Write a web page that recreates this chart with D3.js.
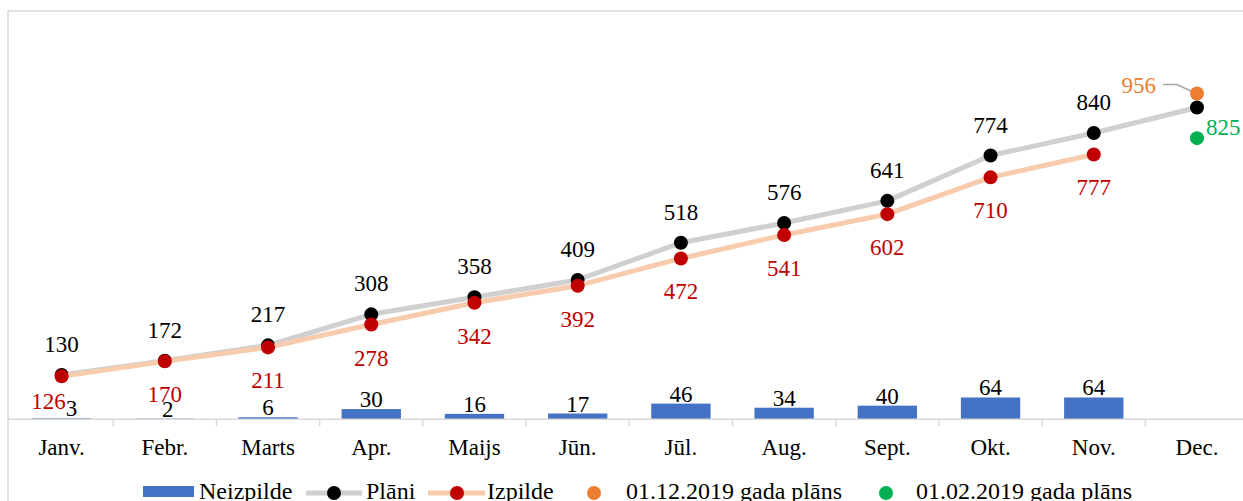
<!DOCTYPE html>
<html>
<head>
<meta charset="utf-8">
<script src="https://cdn.jsdelivr.net/npm/d3@7"></script>
<style>
  html, body { margin: 0; padding: 0; background: #fff; }
  svg { display: block; }
  text { font-family: "Liberation Serif", "Times New Roman", serif; }
</style>
</head>
<body>
<svg id="chart" width="1243" height="501"></svg>
<script>
// ---- data ----
const months = ["Janv.","Febr.","Marts","Apr.","Maijs","Jūn.","Jūl.","Aug.","Sept.","Okt.","Nov.","Dec."];
const plans = [130,172,217,308,358,409,518,576,641,774,840,915];
const izpilde = [126,170,211,278,342,392,472,541,602,710,777];
const neizpilde = [3,2,6,30,16,17,46,34,40,64,64];
const plan0112 = [{month: "Dec.", value: 956}];
const plan0102 = [{month: "Dec.", value: 825}];
const legendLabels = ["Neizpilde","Plāni","Izpilde","01.12.2019 gada plāns","01.02.2019 gada plāns"];

// ---- colours ----
const C = {
  bar: "#4472c4", planLine: "#d0d0d0", planDot: "#000000",
  izLine: "#f8cbad", izDot: "#c00000", izText: "#c00000",
  orange: "#ed7d31", green: "#00b050", grid: "#d9d9d9"
};

const svg = d3.select("#chart");

// frame
svg.append("rect").attr("x", 8).attr("y", 11).attr("width", 1300).attr("height", 600)
  .attr("fill", "none").attr("stroke", C.grid).attr("stroke-width", 1.5);

const x = d3.scaleBand().domain(months).range([10, 1248.6]).paddingInner(0).paddingOuter(0);
const y = d3.scaleLinear().domain([0, 1000]).range([419.3, 78.5]);
const cx = m => x(m) + x.bandwidth() / 2;
const barW = x.bandwidth() * 0.575;

// bars
const barData = neizpilde.map((v, i) => ({m: months[i], v, i}));
svg.append("g").selectAll("rect").data(barData).join("rect")
  .attr("x", d => cx(d.m) - barW / 2)
  .attr("y", d => y(d.v))
  .attr("width", barW)
  .attr("height", d => y(0) - y(d.v))
  .attr("fill", C.bar);

// axis
const axis = d3.axisBottom(x).tickSize(0).tickPadding(0);
const gAx = svg.append("g").attr("transform", `translate(0,${y(0)})`).call(axis);
gAx.select(".domain").remove();
gAx.selectAll(".tick text")
  .attr("y", 36).attr("dy", 0)
  .style("font-family", "Liberation Serif").style("font-size", "23px").attr("fill", "#000");
svg.append("line").attr("x1", 8).attr("x2", 1243).attr("y1", y(0)).attr("y2", y(0))
  .attr("stroke", C.grid).attr("stroke-width", 1.5);
svg.append("g").selectAll("line").data(months.slice(1)).join("line")
  .attr("x1", d => x(d)).attr("x2", d => x(d))
  .attr("y1", y(0)).attr("y2", y(0) + 7)
  .attr("stroke", C.grid).attr("stroke-width", 1.5);

// bar labels
svg.append("g").selectAll("text").data(barData).join("text")
  .attr("x", d => cx(d.m) + (d.i === 0 ? 10 : (d.i === 1 ? 3 : 0)))
  .attr("y", d => y(d.v) - 2)
  .attr("text-anchor", "middle").style("font-size", "23px").attr("fill", "#000")
  .text(d => d.v);

const line = d3.line().x(d => cx(d.m)).y(d => y(d.v));

// plan series
const planData = plans.map((v, i) => ({m: months[i], v, i}));
svg.append("path").datum(planData).attr("d", line)
  .attr("fill", "none").attr("stroke", C.planLine).attr("stroke-width", 5).attr("stroke-linejoin", "round");
svg.append("g").selectAll("circle").data(planData).join("circle")
  .attr("cx", d => cx(d.m)).attr("cy", d => y(d.v)).attr("r", 7).attr("fill", C.planDot);

// izpilde series
const izData = izpilde.map((v, i) => ({m: months[i], v, i}));
svg.append("path").datum(izData).attr("d", line)
  .attr("fill", "none").attr("stroke", C.izLine).attr("stroke-width", 5).attr("stroke-linejoin", "round");
svg.append("g").selectAll("circle").data(izData).join("circle")
  .attr("cx", d => cx(d.m)).attr("cy", d => y(d.v)).attr("r", 7).attr("fill", C.izDot);

// plan labels (Jan..Nov)
svg.append("g").selectAll("text").data(planData.slice(0, 11)).join("text")
  .attr("x", d => cx(d.m)).attr("y", d => y(d.v) - 23)
  .attr("text-anchor", "middle").style("font-size", "23px").attr("fill", "#000")
  .text(d => d.v);

// izpilde labels
svg.append("g").selectAll("text").data(izData).join("text")
  .attr("x", d => cx(d.m) + (d.i === 0 ? -13 : 0))
  .attr("y", d => y(d.v) + (d.i === 0 ? 33 : 41))
  .attr("text-anchor", "middle").style("font-size", "23px").attr("fill", C.izText)
  .text(d => d.v);

// Dec extra points
const o = plan0112[0], g = plan0102[0];
svg.append("path")
  .attr("d", `M1163,${y(o.value) - 9} L1177,${y(o.value) - 9} L${cx(o.month) - 3},${y(o.value) - 1}`)
  .attr("fill", "none").attr("stroke", "#a6a6a6").attr("stroke-width", 1.5);
svg.append("circle").attr("cx", cx(o.month)).attr("cy", y(o.value)).attr("r", 7).attr("fill", C.orange);
svg.append("text").attr("x", 1156).attr("y", y(o.value))
  .attr("text-anchor", "end").style("font-size", "23px").attr("fill", C.orange).text(o.value);
svg.append("circle").attr("cx", cx(g.month)).attr("cy", y(g.value)).attr("r", 7).attr("fill", C.green);
svg.append("text").attr("x", 1206).attr("y", y(g.value) - 3)
  .attr("text-anchor", "start").style("font-size", "23px").attr("fill", C.green).text(g.value);

// legend
const ly = 493, lt = 499;
const leg = svg.append("g");
leg.append("rect").attr("x", 143).attr("y", 486).attr("width", 51).attr("height", 11).attr("fill", C.bar);
leg.append("text").attr("x", 199).attr("y", lt).style("font-size", "24px").text(legendLabels[0]);
leg.append("line").attr("x1", 306).attr("x2", 362).attr("y1", ly).attr("y2", ly).attr("stroke", C.planLine).attr("stroke-width", 5);
leg.append("circle").attr("cx", 334).attr("cy", ly).attr("r", 7).attr("fill", C.planDot);
leg.append("text").attr("x", 366).attr("y", lt).style("font-size", "24px").text(legendLabels[1]);
leg.append("line").attr("x1", 428).attr("x2", 485).attr("y1", ly).attr("y2", ly).attr("stroke", C.izLine).attr("stroke-width", 5);
leg.append("circle").attr("cx", 457).attr("cy", ly).attr("r", 7).attr("fill", C.izDot);
leg.append("text").attr("x", 487).attr("y", lt).style("font-size", "24px").text(legendLabels[2]);
leg.append("circle").attr("cx", 594).attr("cy", ly).attr("r", 7).attr("fill", C.orange);
leg.append("text").attr("x", 626).attr("y", lt).style("font-size", "24px").text(legendLabels[3]);
leg.append("circle").attr("cx", 886).attr("cy", ly).attr("r", 7).attr("fill", C.green);
leg.append("text").attr("x", 916).attr("y", lt).style("font-size", "24px").text(legendLabels[4]);
</script>
</body>
</html>
